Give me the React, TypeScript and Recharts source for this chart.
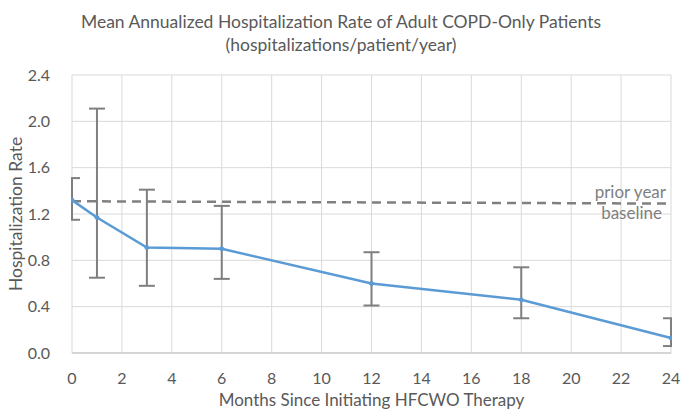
import { LineChart, Line, XAxis, YAxis, CartesianGrid, ErrorBar } from 'recharts';

// months since initiating therapy, mean rate and error bar ends
const months = [0, 1, 3, 6, 12, 18, 24];
const rates = [1.32, 1.17, 0.91, 0.9, 0.6, 0.46, 0.13];
const errLow = [1.15, 0.65, 0.58, 0.64, 0.41, 0.3, 0.06];
const errHigh = [1.51, 2.11, 1.41, 1.27, 0.87, 0.74, 0.3];
// prior year baseline, slightly sloping dashed line
const baseline = [1.31, null, null, null, null, null, 1.29];

const xTicks = [0, 2, 4, 6, 8, 10, 12, 14, 16, 18, 20, 22, 24];
const yTicks = [0, 0.4, 0.8, 1.2, 1.6, 2.0, 2.4];

const data = months.map((m, i) => ({
  month: m,
  rate: rates[i],
  err: [rates[i] - errLow[i], errHigh[i] - rates[i]],
  baseline: baseline[i],
}));

const FONT = 'Lato, sans-serif';
const GREY = '#595959';

export default function App() {
  return (
    <div style={{ position: 'fixed', left: 0, top: 0, width: 682, height: 413, background: '#fff', fontFamily: FONT }}>
      <div style={{ position: 'absolute', top: 10, width: 682, textAlign: 'center', fontSize: 17.5, color: GREY, lineHeight: '23px' }}>
        Mean Annualized Hospitalization Rate of Adult COPD-Only Patients
        <br />
        (hospitalizations/patient/year)
      </div>
      <LineChart width={682} height={413} data={data} margin={{ top: 75, right: 11, left: 0, bottom: 0 }}>
        <CartesianGrid stroke="#d9d9d9" />
        <XAxis
          dataKey="month"
          type="number"
          domain={[0, 24]}
          ticks={xTicks}
          height={60}
          tickLine={false}
          axisLine={{ stroke: '#bfbfbf' }}
          tick={{ fill: GREY, fontSize: 16, fontFamily: FONT }}
          tickMargin={14}
          label={{ value: 'Months Since Initiating HFCWO Therapy', position: 'insideBottom', offset: 7, fill: GREY, fontSize: 17, fontFamily: FONT }}
        />
        <YAxis
          type="number"
          domain={[0, 2.4]}
          ticks={yTicks}
          width={72}
          tickLine={false}
          axisLine={false}
          tickFormatter={(v: number) => v.toFixed(1)}
          tick={{ fill: GREY, fontSize: 16, fontFamily: FONT }}
          tickMargin={16}
          label={{ value: 'Hospitalization Rate', angle: -90, position: 'insideLeft', offset: 16, fill: GREY, fontSize: 17.5, fontFamily: FONT, style: { textAnchor: 'middle' } }}
        />
        <Line
          dataKey="baseline"
          stroke="#808080"
          strokeWidth={2.5}
          strokeDasharray="9 6"
          dot={false}
          connectNulls
          isAnimationActive={false}
        />
        <Line
          dataKey="rate"
          stroke="#5b9bd5"
          strokeWidth={2.5}
          dot={{ r: 2, fill: '#5b9bd5', stroke: '#5b9bd5', strokeWidth: 1 }}
          isAnimationActive={false}
        >
          <ErrorBar dataKey="err" direction="y" stroke="#7f7f7f" strokeWidth={2} width={8} />
        </Line>
      </LineChart>
      {/* mask error bar caps that spill outside the plot area, as Excel clips them */}
      <div style={{ position: 'absolute', left: 60, top: 70, width: 11, height: 282, background: '#fff' }} />
      <div style={{ position: 'absolute', left: 672, top: 70, width: 10, height: 282, background: '#fff' }} />
      <div style={{ position: 'absolute', left: 560, top: 181, width: 106, textAlign: 'right', fontSize: 17, color: '#7f7f7f', lineHeight: '22px' }}>
        prior year
      </div>
      <div style={{ position: 'absolute', left: 560, top: 202, width: 102, textAlign: 'right', fontSize: 17, color: '#7f7f7f', lineHeight: '22px' }}>
        baseline
      </div>
    </div>
  );
}
